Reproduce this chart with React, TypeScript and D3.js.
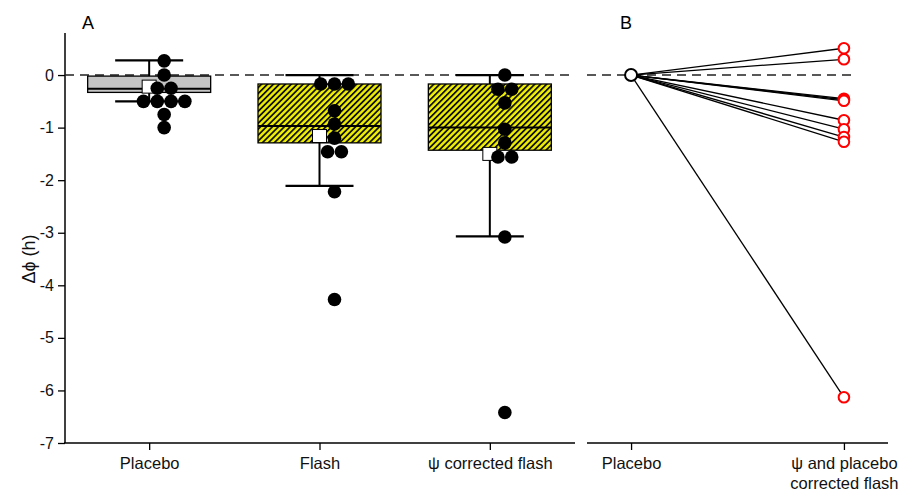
import React, { useEffect, useRef } from "react";
import * as d3 from "d3";

const width = 918;
const height = 497;

// panel A
const groups = ["Placebo", "Flash", "\u03C8 corrected flash"];
const placeboPts = [0.27, 0, -0.25, -0.25, -0.5, -0.5, -0.5, -0.5, -0.75, -1.0];
const flashPts = [-0.17, -0.17, -0.17, -0.68, -0.93, -1.2, -1.46, -1.46, -2.22, -4.27];
const psiPts = [0, -0.27, -0.27, -0.53, -1.03, -1.29, -1.56, -1.56, -3.08, -6.42];
const q3s = [-0.02, -0.17, -0.17];
const medians = [-0.26, -0.97, -1.0];
const q1s = [-0.33, -1.29, -1.43];
const whiskerHi = [0.28, 0, 0];
const whiskerLo = [-0.5, -2.11, -3.07];
const means = [-0.22, -1.16, -1.5];

// panel B
const pairLabels = ["Placebo", "\u03C8 and placebo|corrected flash"];
const pairStart = [0, 0, 0, 0, 0, 0, 0, 0, 0, 0];
const pairEnd = [0.51, 0.3, -0.45, -0.47, -0.49, -0.86, -1.03, -1.18, -1.27, -6.13];

const yTicks = [0, -1, -2, -3, -4, -5, -6, -7];

const App = () => {
  const ref = useRef<SVGSVGElement>(null);

  useEffect(() => {
    const svg = d3.select(ref.current);
    svg.selectAll("*").remove();
    const font = "Liberation Sans, Arial, sans-serif";

    const y = d3.scaleLinear().domain([-7, 0.8]).range([443, 33]);
    const xA = d3.scalePoint<string>().domain(groups).range([64, 575]).padding(0.5);
    const xB = d3.scalePoint<string>().domain(pairLabels).range([587, 888]).padding(0.207);

    // hatch
    const defs = svg.append("defs");
    const pat = defs
      .append("pattern")
      .attr("id", "hatch")
      .attr("patternUnits", "userSpaceOnUse")
      .attr("width", 4.2)
      .attr("height", 4.2)
      .attr("patternTransform", "rotate(45)");
    pat.append("rect").attr("width", 4.2).attr("height", 4.2).attr("fill", "#f2f200");
    pat.append("rect").attr("width", 1.8).attr("height", 4.2).attr("fill", "#111");

    // y axis
    const yAxis = svg
      .append("g")
      .attr("transform", "translate(65,0)")
      .call(d3.axisLeft(y).tickValues(yTicks).tickSize(7).tickFormat((d) => String(d)));
    yAxis.select(".domain").attr("d", `M0,${y(0.8)}V${y(-7)}`).attr("stroke-width", 1.5);
    yAxis.selectAll(".tick line").attr("stroke-width", 1.3);
    yAxis
      .selectAll(".tick text")
      .attr("font-family", font)
      .attr("font-size", 16)
      .attr("fill", "#111")
      .attr("x", -11);

    // x axis A
    const xAxA = svg
      .append("g")
      .attr("transform", `translate(0,${y(-7)})`)
      .call(d3.axisBottom(xA).tickSize(7).tickSizeOuter(0));
    xAxA.select(".domain").attr("d", "M64,0H575").attr("stroke-width", 1.5);
    xAxA.selectAll(".tick line").attr("stroke-width", 1.3);
    xAxA
      .selectAll(".tick text")
      .attr("font-family", font)
      .attr("font-size", 16.5)
      .attr("fill", "#111")
      .attr("y", 14);

    // x axis B
    const xAxB = svg
      .append("g")
      .attr("transform", `translate(0,${y(-7)})`)
      .call(d3.axisBottom(xB).tickSize(7).tickSizeOuter(0).tickFormat(() => ""));
    xAxB.select(".domain").attr("d", "M587,0H888").attr("stroke-width", 1.5);
    xAxB.selectAll(".tick line").attr("stroke-width", 1.3);
    xAxB
      .selectAll(".tick text")
      .attr("font-family", font)
      .attr("font-size", 16.5)
      .attr("fill", "#111")
      .attr("y", 14)
      .each(function (d: any) {
        const t = d3.select(this);
        String(d)
          .split("|")
          .forEach((line, i) => {
            t.append("tspan").attr("x", 0).attr("dy", i === 0 ? "0.71em" : "1.2em").text(line);
          });
      });

    // zero reference lines
    svg
      .append("line")
      .attr("x1", 65)
      .attr("x2", 575)
      .attr("y1", y(0))
      .attr("y2", y(0))
      .attr("stroke", "#222")
      .attr("stroke-width", 1.5)
      .attr("stroke-dasharray", "9,6");
    svg
      .append("line")
      .attr("x1", 587)
      .attr("x2", 853)
      .attr("y1", y(0))
      .attr("y2", y(0))
      .attr("stroke", "#222")
      .attr("stroke-width", 1.5)
      .attr("stroke-dasharray", "9,6");

    // box plots
    const boxW = 123;
    const capW = 68;
    const fills = ["#c4c4c4", "url(#hatch)", "url(#hatch)"];
    groups.forEach((g, i) => {
      const cx = xA(g)!;
      const gg = svg.append("g");
      gg.append("line")
        .attr("x1", cx).attr("x2", cx)
        .attr("y1", y(q3s[i])).attr("y2", y(whiskerHi[i]))
        .attr("stroke", "#000").attr("stroke-width", 2);
      gg.append("line")
        .attr("x1", cx).attr("x2", cx)
        .attr("y1", y(q1s[i])).attr("y2", y(whiskerLo[i]))
        .attr("stroke", "#000").attr("stroke-width", 2);
      [whiskerHi[i], whiskerLo[i]].forEach((v) => {
        gg.append("line")
          .attr("x1", cx - capW / 2).attr("x2", cx + capW / 2)
          .attr("y1", y(v)).attr("y2", y(v))
          .attr("stroke", "#000").attr("stroke-width", 2.2);
      });
      gg.append("rect")
        .attr("x", cx - boxW / 2)
        .attr("width", boxW)
        .attr("y", y(q3s[i]))
        .attr("height", y(q1s[i]) - y(q3s[i]))
        .attr("fill", fills[i])
        .attr("stroke", "#000")
        .attr("stroke-width", 1.3);
      gg.append("line")
        .attr("x1", cx - boxW / 2).attr("x2", cx + boxW / 2)
        .attr("y1", y(medians[i])).attr("y2", y(medians[i]))
        .attr("stroke", "#000").attr("stroke-width", 2);
      gg.append("rect")
        .attr("x", cx - 7)
        .attr("y", y(means[i]) - 6.5)
        .attr("width", 14)
        .attr("height", 13)
        .attr("fill", "#fff")
        .attr("stroke", "#000")
        .attr("stroke-width", 1);
    });

    // points (equal values laid side by side)
    const allPts = [placeboPts, flashPts, psiPts];
    const spacing = 13.8;
    allPts.forEach((pts, i) => {
      const cx = xA(groups[i])! + 15;
      const counts = d3.rollup(pts, (v) => v.length, (v) => v);
      const seen = new Map<number, number>();
      const placed = pts.map((v) => {
        const n = counts.get(v)!;
        const k = seen.get(v) ?? 0;
        seen.set(v, k + 1);
        return { v, x: cx + (k - (n - 1) / 2) * spacing };
      });
      svg
        .append("g")
        .selectAll("circle")
        .data(placed)
        .join("circle")
        .attr("cx", (d) => d.x)
        .attr("cy", (d) => y(d.v))
        .attr("r", 6.8)
        .attr("fill", "#000");
    });

    // panel B paired lines
    const x0 = xB(pairLabels[0])!;
    const x1 = xB(pairLabels[1])!;
    svg
      .append("g")
      .selectAll("line")
      .data(pairEnd)
      .join("line")
      .attr("x1", x0)
      .attr("y1", (d, i) => y(pairStart[i]))
      .attr("x2", x1)
      .attr("y2", (d) => y(d))
      .attr("stroke", "#000")
      .attr("stroke-width", 1.3);
    svg
      .append("g")
      .selectAll("circle")
      .data(pairEnd)
      .join("circle")
      .attr("cx", x1)
      .attr("cy", (d) => y(d))
      .attr("r", 5.3)
      .attr("fill", "#fff")
      .attr("stroke", "#ff0000")
      .attr("stroke-width", 2);
    svg
      .append("circle")
      .attr("cx", x0)
      .attr("cy", y(pairStart[0]))
      .attr("r", 6)
      .attr("fill", "#fff")
      .attr("stroke", "#000")
      .attr("stroke-width", 2);

    // panel letters
    svg.append("text").attr("x", 82).attr("y", 29).attr("font-family", font).attr("font-size", 18).text("A");
    svg.append("text").attr("x", 620).attr("y", 29).attr("font-family", font).attr("font-size", 18).text("B");

    // y label
    svg
      .append("text")
      .attr("transform", `translate(35,${y(-3.5)}) rotate(-90)`)
      .attr("text-anchor", "middle")
      .attr("font-family", font)
      .attr("font-size", 18)
      .attr("fill", "#111")
      .text("\u0394\u03D5 (h)");
  }, []);

  return (
    <svg
      ref={ref}
      width={width}
      height={height}
      viewBox={`0 0 ${width} ${height}`}
      style={{ position: "absolute", left: 0, top: 0, background: "#fff" }}
    ></svg>
  );
};

export default App;
